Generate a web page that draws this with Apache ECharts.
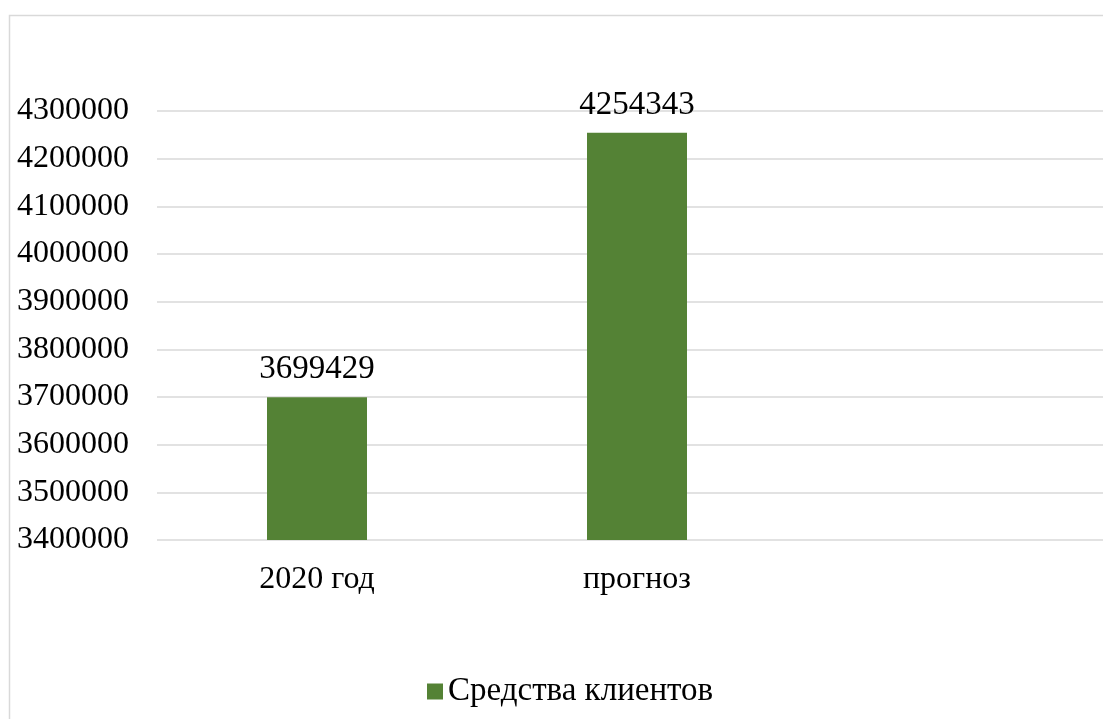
<!DOCTYPE html>
<html>
<head>
<meta charset="utf-8">
<script src="https://cdn.jsdelivr.net/npm/echarts@6/dist/echarts.min.js"></script>
<style>html,body{margin:0;padding:0;background:#fff;overflow:hidden}#c{width:1120px;height:719px}</style>
</head>
<body>
<div id="c"></div>
<script>
const categories = ['2020 год', 'прогноз', ''];
const values = [3699429, 4254343, null];
const seriesName = 'Средства клиентов';
const yMin = 3400000, yMax = 4300000, yStep = 100000;

const font = '"Liberation Serif", "Times New Roman", serif';
const chart = echarts.init(document.getElementById('c'));
chart.setOption({
  animation: false,
  graphic: [{
    type: 'rect', left: 7, top: 13, silent: true,
    shape: { width: 1200, height: 800 },
    style: { fill: 'none', stroke: '#d9d9d9', lineWidth: 1.5 }
  }],
  grid: { left: 157, top: 111, width: 960, height: 429, containLabel: false },
  legend: {
    data: [seriesName], bottom: 11, left: 427, padding: 0,
    itemWidth: 16, itemHeight: 16, itemGap: 8,
    icon: 'rect',
    textStyle: { fontFamily: font, fontSize: 33, color: '#000' }
  },
  xAxis: {
    type: 'category', data: categories,
    axisLine: { show: false }, axisTick: { show: false },
    axisLabel: { fontFamily: font, fontSize: 32, color: '#000', margin: 24 }
  },
  yAxis: {
    type: 'value', min: yMin, max: yMax, interval: yStep,
    axisLine: { show: false }, axisTick: { show: false },
    axisLabel: { fontFamily: font, fontSize: 32, color: '#000', margin: 28, formatter: v => String(v) },
    splitLine: { lineStyle: { color: '#d9d9d9', width: 1.5 } }
  },
  series: [{
    name: seriesName, type: 'bar', data: values, barWidth: 100,
    itemStyle: { color: '#548235' },
    label: { show: true, position: 'top', distance: 11, fontFamily: font, fontSize: 33, color: '#000' }
  }]
});
</script>
</body>
</html>
